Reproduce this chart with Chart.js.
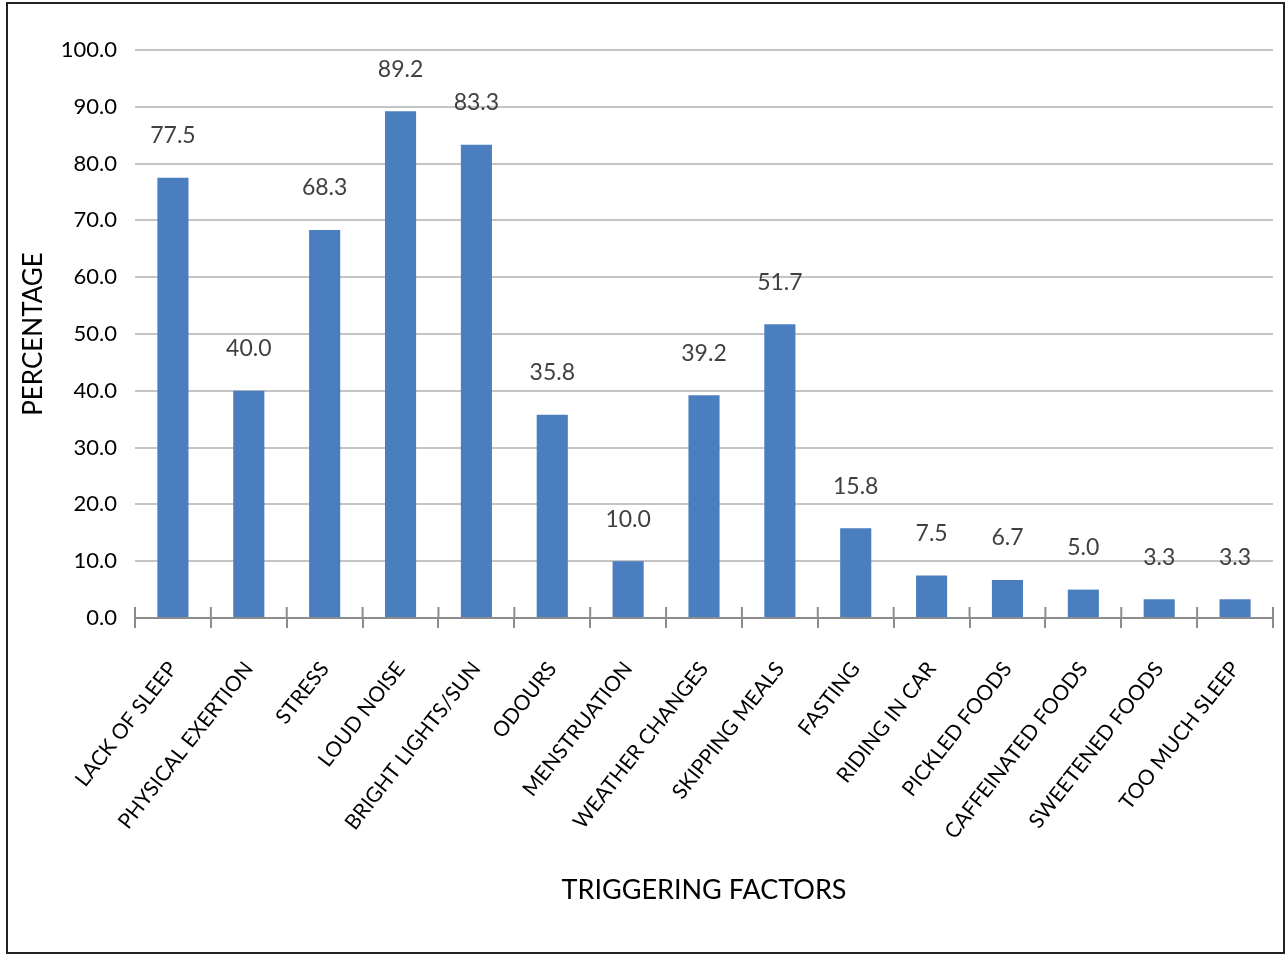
<!DOCTYPE html>
<html>
<head>
  <title>Triggering Factors</title>
  <script src="https://cdn.jsdelivr.net/npm/chart.js"></script>
  <style>
    body{
        margin:0px;
        padding:0px;
        background-color:#ffffff;
    }
    #wrap{
        position:absolute;
        left:0px;
        top:0px;
        width:1287px;
        height:956px;
    }
    #frame{
        position:absolute;
        left:6px;
        top:2px;
        width:1275px;
        height:948px;
        border:2px solid #222;
        pointer-events:none;
    }
  </style>
</head>
<body>
<div id="wrap"><canvas id="chart"></canvas></div>
<div id="frame"></div>
<script>
    var factors = ['LACK OF SLEEP', 'PHYSICAL EXERTION', 'STRESS', 'LOUD NOISE', 'BRIGHT LIGHTS/SUN',
                   'ODOURS', 'MENSTRUATION', 'WEATHER CHANGES', 'SKIPPING MEALS', 'FASTING',
                   'RIDING IN CAR', 'PICKLED FOODS', 'CAFFEINATED FOODS', 'SWEETENED FOODS', 'TOO MUCH SLEEP'];
    var percentages = [77.5, 40.0, 68.3, 89.2, 83.3, 35.8, 10.0, 39.2, 51.7, 15.8, 7.5, 6.7, 5.0, 3.3, 3.3];
    var yTickLabels = ['0.0', '10.0', '20.0', '30.0', '40.0', '50.0', '60.0', '70.0', '80.0', '90.0', '100.0'];

    // numbers written above each bar
    var valueLabels = {
      id: 'valueLabels',
      afterDatasetsDraw(chart) {
        var ctx = chart.ctx;
        var meta = chart.getDatasetMeta(0);
        ctx.save();
        ctx.font = '23px Lato';
        ctx.fillStyle = '#404040';
        ctx.textAlign = 'center';
        ctx.textBaseline = 'middle';
        meta.data.forEach((bar, i) => {
          ctx.fillText(percentages[i].toFixed(1), bar.x, bar.y - 42);
        });
        ctx.restore();
      }
    };

    // category boundary ticks also poke up above the axis line
    var upTicks = {
      id: 'upTicks',
      afterDraw(chart) {
        var xs = chart.scales.x;
        var ctx = chart.ctx;
        var half = (xs.getPixelForValue(1) - xs.getPixelForValue(0)) / 2;
        ctx.save();
        ctx.strokeStyle = '#8c8c8c';
        ctx.lineWidth = 2;
        ctx.beginPath();
        for (let i = 0; i <= factors.length; i++) {
          let x = xs.getPixelForValue(i) - half;
          ctx.moveTo(x, xs.top - 11);
          ctx.lineTo(x, xs.top);
        }
        ctx.stroke();
        ctx.restore();
      }
    };

    var ctx = document.getElementById('chart').getContext('2d');
    var chart = new Chart(ctx, {
      type: 'bar',
      data: {
        labels: factors,
        datasets: [{
          label: 'Percentage',
          data: percentages,
          backgroundColor: '#4a7ebf',
          borderWidth: 0,
          categoryPercentage: 1.0,
          barPercentage: 0.41
        }]
      },
      plugins: [valueLabels, upTicks],
      options: {
        responsive: true,
        maintainAspectRatio: false,
        animation: false,
        layout: {
          padding: { top: 50, right: 14, left: 0, bottom: 0 }
        },
        plugins: {
          legend: { display: false },
          tooltip: { enabled: false }
        },
        scales: {
          x: {
            grid: {
              offset: true,
              drawOnChartArea: false,
              drawTicks: true,
              tickLength: 10,
              color: '#8c8c8c',
              lineWidth: 2
            },
            border: { color: '#8c8c8c', width: 2 },
            ticks: {
              color: '#000',
              font: { family: 'Lato', size: 21 },
              minRotation: 52,
              maxRotation: 52,
              autoSkip: false,
              padding: 29
            },
            title: {
              display: true,
              text: 'TRIGGERING FACTORS',
              color: '#000',
              font: { family: 'Lato', size: 27 },
              padding: { top: 0, bottom: 50 }
            },
            afterFit: function(scale) { scale.height = 338; }
          },
          y: {
            min: 0,
            max: 100,
            ticks: {
              stepSize: 10,
              callback: function(value, index) { return yTickLabels[index]; },
              color: '#000',
              font: { family: 'Lato', size: 22 },
              padding: 18
            },
            grid: { color: '#c4c4c4', lineWidth: 2, drawTicks: false },
            border: { display: false },
            title: {
              display: true,
              text: 'PERCENTAGE',
              color: '#000',
              font: { family: 'Lato', size: 26 },
              padding: { top: 18, bottom: 0 }
            },
            afterFit: function(scale) { scale.width = 135; }
          }
        }
      }
    });
</script>
</body>
</html>
